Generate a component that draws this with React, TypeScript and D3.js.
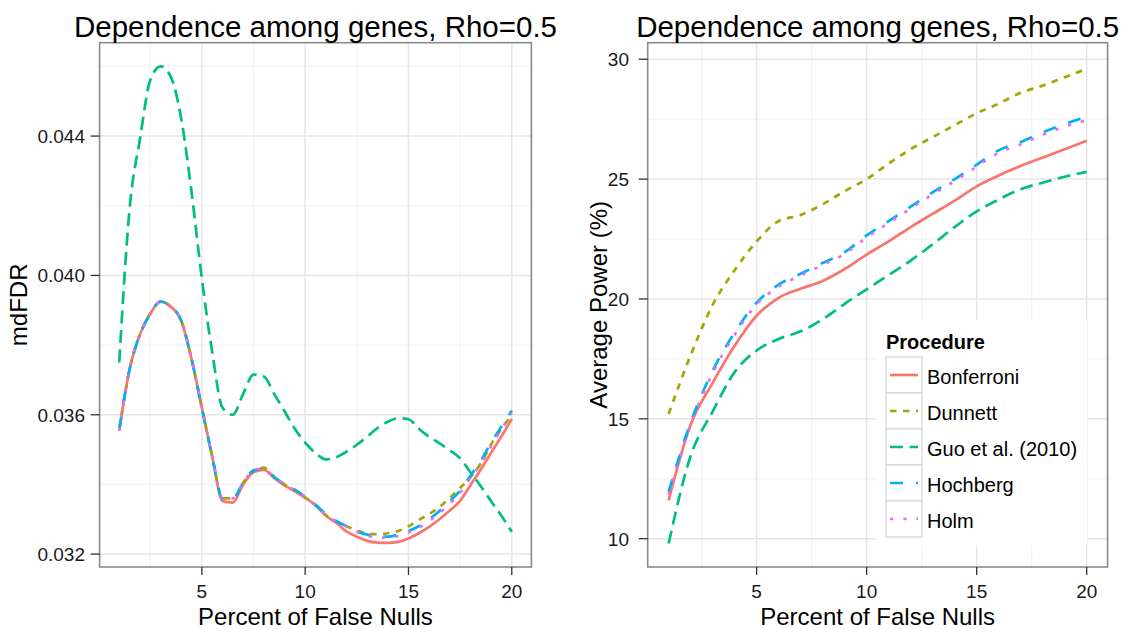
import React from 'react';
import * as d3 from 'd3';

// ---------- data ----------
const procedures = ['Bonferroni', 'Dunnett', 'Guo et al. (2010)', 'Hochberg', 'Holm'];
const procColors = ['#F8766D', '#A3A500', '#00BF7D', '#00B0F6', '#E76BF3'];
const procDash = ['none', '6.5 6.5', '13 6.5', '13 13', '3.3 10'];

const pctFine = [1, 1.5, 2, 2.5, 3, 3.5, 4, 4.5, 5, 5.5, 6, 6.5, 7, 7.5, 8, 8.5, 9, 9.5, 10, 10.5,
  11, 11.5, 12, 12.5, 13, 13.5, 14, 14.5, 15, 15.5, 16, 16.5, 17, 17.5, 18, 18.5, 19, 19.5, 20];

const mdfdrBonferroni = [0.03554, 0.0373, 0.0383, 0.0389, 0.03925, 0.0391, 0.0387, 0.0376, 0.0362, 0.0348,
  0.03352, 0.03348, 0.0340, 0.03435, 0.03442, 0.03418, 0.03397, 0.0338, 0.03362, 0.0334,
  0.0331, 0.0329, 0.03265, 0.0325, 0.03238, 0.03233, 0.03232, 0.03235, 0.03245, 0.0326,
  0.03278, 0.033, 0.03325, 0.03353, 0.03398, 0.03443, 0.03491, 0.03538, 0.03588];
const mdfdrDunnett = [0.03556, 0.0373, 0.0383, 0.0389, 0.03925, 0.0391, 0.0387, 0.0376, 0.0362, 0.0348,
  0.0336, 0.0336, 0.03405, 0.0344, 0.03448, 0.0342, 0.034, 0.03382, 0.03362, 0.0334,
  0.03312, 0.03293, 0.0328, 0.03268, 0.03259, 0.03257, 0.0326, 0.03266, 0.0328, 0.03298,
  0.03315, 0.03335, 0.03362, 0.0339, 0.03421, 0.0346, 0.03515, 0.0356, 0.03598];
const mdfdrGuo = [0.0375, 0.0419, 0.0439, 0.0456, 0.0460, 0.0457, 0.0445, 0.0424, 0.0399, 0.0378,
  0.0362, 0.0360, 0.0366, 0.03715, 0.0371, 0.0366, 0.0361, 0.0356, 0.0352, 0.0349,
  0.03472, 0.03478, 0.03494, 0.03514, 0.03537, 0.03562, 0.0358, 0.0359, 0.03587, 0.0356,
  0.03537, 0.03518, 0.03498, 0.03475, 0.03435, 0.03395, 0.03352, 0.0331, 0.03264];
const mdfdrHochberg = [0.03556, 0.0373, 0.0383, 0.0389, 0.03925, 0.0391, 0.0387, 0.0376, 0.0362, 0.0348,
  0.0336, 0.0336, 0.03405, 0.0344, 0.03445, 0.03422, 0.034, 0.03385, 0.03365, 0.03342,
  0.03315, 0.03295, 0.0328, 0.03265, 0.03256, 0.03251, 0.0325, 0.03256, 0.03266, 0.0328,
  0.033, 0.03324, 0.03352, 0.03382, 0.03425, 0.03468, 0.0352, 0.03566, 0.03612];
const mdfdrHolm = [0.03555, 0.0373, 0.0383, 0.0389, 0.03925, 0.0391, 0.0387, 0.0376, 0.0362, 0.0348,
  0.0336, 0.0336, 0.03405, 0.0344, 0.03445, 0.0342, 0.034, 0.03383, 0.03364, 0.03341,
  0.03313, 0.03294, 0.0328, 0.03264, 0.03253, 0.03248, 0.03247, 0.03252, 0.03262, 0.03276,
  0.03295, 0.03318, 0.03345, 0.03376, 0.03418, 0.0346, 0.0351, 0.03558, 0.03605];

const pctInt = [1, 2, 3, 4, 5, 6, 7, 8, 9, 10, 11, 12, 13, 14, 15, 16, 17, 18, 19, 20];
const powerBonferroni = [11.6, 14.75, 16.5, 18.05, 19.3, 20.05, 20.43, 20.75, 21.25, 21.85,
  22.4, 23.0, 23.55, 24.1, 24.7, 25.15, 25.55, 25.9, 26.25, 26.6];
const powerDunnett = [15.2, 17.65, 19.75, 21.2, 22.4, 23.25, 23.5, 23.95, 24.5, 25.0,
  25.65, 26.25, 26.75, 27.25, 27.75, 28.15, 28.6, 28.9, 29.25, 29.6];
const powerGuo = [9.8, 13.45, 15.3, 16.95, 17.85, 18.33, 18.65, 19.15, 19.8, 20.4,
  21.0, 21.6, 22.28, 23.0, 23.65, 24.15, 24.58, 24.85, 25.1, 25.3];
const powerHochberg = [11.95, 14.85, 17.0, 18.6, 19.85, 20.6, 21.05, 21.5, 21.95, 22.65,
  23.25, 23.85, 24.45, 25.0, 25.6, 26.2, 26.55, 26.95, 27.3, 27.6];
const powerHolm = [11.85, 14.75, 16.9, 18.5, 19.78, 20.52, 20.98, 21.42, 21.88, 22.57,
  23.17, 23.77, 24.37, 24.92, 25.52, 26.1, 26.45, 26.85, 27.2, 27.45];

const xTicks = [5, 10, 15, 20];
const xMinor = [2.5, 7.5, 12.5, 17.5];
const leftYTicks = [0.032, 0.036, 0.040, 0.044];
const leftYMinor = [0.034, 0.038, 0.042, 0.046];
const rightYTicks = [10, 15, 20, 25, 30];
const rightYMinor = [12.5, 17.5, 22.5, 27.5];

const titleText = 'Dependence among genes, Rho=0.5';
const xTitle = 'Percent of False Nulls';

const FONT = '"Liberation Sans", Arial, Helvetica, sans-serif';

type Series = { xs: number[]; ys: number[] };

function Panel(props: {
  left: number; right: number; top: number; bottom: number;
  xDomain: [number, number]; yDomain: [number, number];
  yTicks: number[]; yMinor: number[]; yFmt: (v: number) => string;
  series: Series[]; yTitle: string; yTitleX: number; yLabelEnd: number;
  children?: React.ReactNode;
}) {
  const { left, right, top, bottom } = props;
  const x = d3.scaleLinear().domain(props.xDomain).range([left, right]);
  const y = d3.scaleLinear().domain(props.yDomain).range([bottom, top]);
  const line = d3.line<[number, number]>().x(d => x(d[0])).y(d => y(d[1])).curve(d3.curveMonotoneX);
  const cx = (left + right) / 2;
  const cy = (top + bottom) / 2;
  return (
    <g>
      <rect x={left} y={top} width={right - left} height={bottom - top} fill="#ffffff" />
      {xMinor.map(v => (
        <line key={'xm' + v} x1={x(v)} x2={x(v)} y1={top} y2={bottom} stroke="#f4f4f4" strokeWidth={1.2} />
      ))}
      {props.yMinor.map(v => (
        <line key={'ym' + v} x1={left} x2={right} y1={y(v)} y2={y(v)} stroke="#f4f4f4" strokeWidth={1.2} />
      ))}
      {xTicks.map(v => (
        <line key={'xg' + v} x1={x(v)} x2={x(v)} y1={top} y2={bottom} stroke="#e6e6e6" strokeWidth={1.5} />
      ))}
      {props.yTicks.map(v => (
        <line key={'yg' + v} x1={left} x2={right} y1={y(v)} y2={y(v)} stroke="#e6e6e6" strokeWidth={1.5} />
      ))}
      {props.series.map((s, i) => (
        <path key={'s' + i}
          d={line(s.xs.map((xv, j) => [xv, s.ys[j]] as [number, number])) || ''}
          fill="none" stroke={procColors[i]} strokeWidth={2.7}
          strokeDasharray={procDash[i]} strokeLinecap="butt" strokeLinejoin="round" />
      ))}
      {props.children}
      <rect x={left} y={top} width={right - left} height={bottom - top} fill="none" stroke="#8a8a8a" strokeWidth={1.6} />
      {xTicks.map(v => (
        <g key={'xt' + v}>
          <line x1={x(v)} x2={x(v)} y1={bottom} y2={bottom + 8} stroke="#333" strokeWidth={1.3} />
          <text x={x(v)} y={598} textAnchor="middle" fontSize={19} fill="#1a1a1a" fontFamily={FONT}>{v}</text>
        </g>
      ))}
      {props.yTicks.map(v => (
        <g key={'yt' + v}>
          <line x1={left - 9} x2={left} y1={y(v)} y2={y(v)} stroke="#333" strokeWidth={1.3} />
          <text x={props.yLabelEnd} y={y(v) + 6.8} textAnchor="end" fontSize={19} fill="#1a1a1a" fontFamily={FONT}>{props.yFmt(v)}</text>
        </g>
      ))}
      <text x={cx} y={37} textAnchor="middle" fontSize={29.5} fill="#000" fontFamily={FONT}>{titleText}</text>
      <text x={cx} y={625} textAnchor="middle" fontSize={24} fill="#000" fontFamily={FONT}>{xTitle}</text>
      <text transform={`translate(${props.yTitleX},${cy}) rotate(-90)`} textAnchor="middle" fontSize={24} fill="#000" fontFamily={FONT}>{props.yTitle}</text>
    </g>
  );
}

export default function App() {
  const leftSeries: Series[] = [
    { xs: pctFine, ys: mdfdrBonferroni },
    { xs: pctFine, ys: mdfdrDunnett },
    { xs: pctFine, ys: mdfdrGuo },
    { xs: pctFine, ys: mdfdrHochberg },
    { xs: pctFine, ys: mdfdrHolm },
  ];
  const rightSeries: Series[] = [
    { xs: pctInt, ys: powerBonferroni },
    { xs: pctInt, ys: powerDunnett },
    { xs: pctInt, ys: powerGuo },
    { xs: pctInt, ys: powerHochberg },
    { xs: pctInt, ys: powerHolm },
  ];
  const legX = 886, legKeyTop = 357, keyH = 36, keyW = 36;
  return (
    <svg width={1126} height={629} style={{ position: 'absolute', left: 0, top: 0, background: '#fff' }}>
      <rect x={0} y={0} width={1126} height={629} fill="#fff" />
      <Panel left={99.6} right={531.4} top={42.7} bottom={567}
        xDomain={[0.05, 20.95]} yDomain={[0.03163, 0.04668]}
        yTicks={leftYTicks} yMinor={leftYMinor} yFmt={d3.format('.3f')}
        series={leftSeries} yTitle="mdFDR" yTitleX={27} yLabelEnd={85} />
      <Panel left={647.7} right={1107.6} top={42.7} bottom={567}
        xDomain={[0.05, 20.95]} yDomain={[8.82, 30.69]}
        yTicks={rightYTicks} yMinor={rightYMinor} yFmt={d3.format('d')}
        series={rightSeries} yTitle="Average Power (%)" yTitleX={607} yLabelEnd={629}>
        <g>
          <rect x={877} y={320} width={210} height={225} fill="#fff" />
          <text x={legX} y={349} fontSize={20} fontWeight="bold" fill="#000" fontFamily={FONT}>Procedure</text>
          {procedures.map((p, i) => {
            const ty = legKeyTop + i * keyH;
            return (
              <g key={p}>
                <rect x={legX} y={ty} width={keyW} height={keyH} fill="#fff" stroke="#d4d4d4" strokeWidth={1.2} />
                <line x1={legX + 4} x2={legX + keyW - 4} y1={ty + keyH / 2} y2={ty + keyH / 2}
                  stroke={procColors[i]} strokeWidth={2.7} strokeDasharray={procDash[i]} />
                <text x={927} y={ty + keyH / 2 + 8.5} fontSize={20} fill="#000" fontFamily={FONT}>{p}</text>
              </g>
            );
          })}
        </g>
      </Panel>
    </svg>
  );
}
